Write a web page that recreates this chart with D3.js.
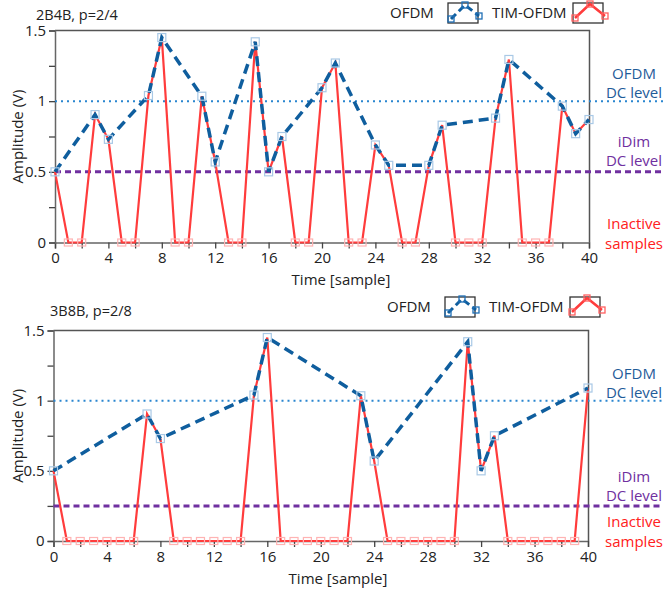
<!DOCTYPE html>
<meta charset="utf-8">
<script src="https://d3js.org/d3.v7.min.js"></script>
<style>
  body { margin: 0; background: #fff; }
  text { font-family: "Open Sans", "Noto Sans", sans-serif; }
</style>
<div id="my_dataviz"></div>
<script>

// sample index axis
var samples = [0,1,2,3,4,5,6,7,8,9,10,11,12,13,14,15,16,17,18,19,20,
               21,22,23,24,25,26,27,28,29,30,31,32,33,34,35,36,37,38,39,40];

// 2B4B panel: OFDM (active samples only) and TIM-OFDM (all samples)
var activeTop = [0,3,4,7,8,11,12,15,16,17,20,21,24,25,28,29,33,34,38,39,40];
var ofdmTop   = [0.5,0.905,0.73,1.04,1.45,1.035,0.57,1.42,0.5,0.75,1.095,1.27,
                 0.69,0.546,0.546,0.83,0.88,1.295,0.965,0.77,0.87];
var timTop    = [0.5,0,0,0.905,0.73,0,0,1.04,1.45,0,0,1.035,0.57,0,0,1.42,0.5,0.75,0,0,
                 1.095,1.27,0,0,0.69,0.546,0,0,0.546,0.83,0,0,0,0.88,1.295,0,0,0,0.965,0.77,0.87];

// 3B8B panel
var activeBottom = [0,7,8,15,16,23,24,31,32,33,40];
var ofdmBottom   = [0.5,0.905,0.73,1.04,1.45,1.035,0.57,1.42,0.5,0.75,1.09];
var timBottom    = [0.5,0,0,0,0,0,0,0.905,0.73,0,0,0,0,0,0,1.04,1.45,0,0,0,0,0,0,
                    1.035,0.57,0,0,0,0,0,0,1.42,0.5,0.75,0,0,0,0,0,0,1.09];

// reference levels
var ofdmDC = [1, 1];
var idimDC = [0.5, 0.25];
var titles = ["2B4B, p=2/4", "3B8B, p=2/8"];

var xTicks = [0,2,4,6,8,10,12,14,16,18,20,22,24,26,28,30,32,34,36,38,40];
var yTicks = [0,0.25,0.5,0.75,1,1.25,1.5];

var blue = "#0f5e9e", red = "#ff3c3c", purple = "#7030a0";

var svg = d3.select("#my_dataviz")
  .append("svg")
    .attr("width", 663)
    .attr("height", 593);

var panels = [
  {top: 30.5, bottom: 242.5, left: 55, right: 589, titleX: 36, titleY: 20, labX: 341,
   act: activeTop, ofdm: ofdmTop, tim: timTop, dc: ofdmDC[0], idim: idimDC[0],
   title: titles[0], legY: 0},
  {top: 330.5, bottom: 541, left: 53.5, right: 588, titleX: 50, titleY: 316, labX: 338,
   act: activeBottom, ofdm: ofdmBottom, tim: timBottom, dc: ofdmDC[1], idim: idimDC[1],
   title: titles[1], legY: 294}
];

panels.forEach(function(p, pi) {
  var g = svg.append("g");

  var x = d3.scaleLinear().domain([0, 40]).range([p.left, p.right]);
  var y = d3.scaleLinear().domain([0, 1.5]).range([p.bottom, p.top]);

  // title
  g.append("text")
    .attr("x", p.titleX).attr("y", p.titleY)
    .style("font-size", "14.5px").attr("fill", "#222")
    .text(p.title);

  // frame top / right
  g.append("path")
    .attr("d", "M" + p.left + "," + p.top + "H" + (p.right + 0.5) + "V" + p.bottom)
    .attr("fill", "none").attr("stroke", "#555").attr("stroke-width", 1.5);

  // axes
  var xAxis = g.append("g")
    .attr("transform", "translate(0," + p.bottom + ")")
    .call(d3.axisBottom(x).tickValues(xTicks).tickSize(6).tickPadding(4)
      .tickFormat(function(d) { return d % 4 === 0 ? d : ""; }));
  var yAxis = g.append("g")
    .attr("transform", "translate(" + p.left + ",0)")
    .call(d3.axisLeft(y).tickValues(yTicks).tickSize(6).tickPadding(3)
      .tickFormat(function(d) { return d % 0.5 === 0 ? d : ""; }));
  [xAxis, yAxis].forEach(function(a) {
    a.select(".domain").attr("stroke", "#666").attr("stroke-width", 1.5);
    a.selectAll(".tick line").attr("stroke", "#444").attr("stroke-width", 1.3);
    a.selectAll(".tick text").style("font-size", "15px").attr("fill", "#222")
      .style("font-family", "'Open Sans', sans-serif");
  });

  // axis labels
  g.append("text")
    .attr("transform", "translate(18," + ((p.top + p.bottom) / 2) + ") rotate(-90)")
    .attr("text-anchor", "middle").attr("dy", "0.35em")
    .style("font-size", "15px").attr("fill", "#222")
    .text("Amplitude (V)");
  g.append("text")
    .attr("x", p.labX).attr("y", p.bottom + 42.5)
    .attr("text-anchor", "middle")
    .style("font-size", "15px").attr("fill", "#222")
    .text("Time [sample]");

  // DC level reference lines (run past the frame)
  g.append("line")
    .attr("x1", p.left).attr("x2", 663)
    .attr("y1", y(p.dc)).attr("y2", y(p.dc))
    .attr("stroke", "#2a86d0").attr("stroke-width", 2)
    .attr("stroke-dasharray", "2,4");
  g.append("line")
    .attr("x1", p.left).attr("x2", 663)
    .attr("y1", y(p.idim)).attr("y2", y(p.idim))
    .attr("stroke", purple).attr("stroke-width", 3)
    .attr("stroke-dasharray", "6,4");

  // TIM-OFDM line
  var timPts = samples.map(function(s, i) { return [s, p.tim[i]]; });
  var ofdmPts = p.act.map(function(s, i) { return [s, p.ofdm[i]]; });
  var line = d3.line().x(function(d) { return x(d[0]); }).y(function(d) { return y(d[1]); });

  g.append("path").datum(timPts)
    .attr("d", line).attr("fill", "none")
    .attr("stroke", red).attr("stroke-width", 2.2);

  // red markers only show on the inactive (zero) samples
  g.selectAll(".rm").data(timPts.filter(function(d) { return p.act.indexOf(d[0]) < 0; }))
    .enter().append("rect")
    .attr("x", function(d) { return x(d[0]) - 4; })
    .attr("y", function(d) { return y(d[1]) - 3.5; })
    .attr("width", 8).attr("height", 7)
    .attr("fill", "none").attr("stroke", "#ffb3b3").attr("stroke-width", 1.2);

  // OFDM dashed line
  g.append("path").datum(ofdmPts)
    .attr("d", line).attr("fill", "none")
    .attr("stroke", blue).attr("stroke-width", 3.5)
    .attr("stroke-dasharray", "10,6");

  g.selectAll(".bm").data(ofdmPts).enter().append("rect")
    .attr("x", function(d) { return x(d[0]) - 4; })
    .attr("y", function(d) { return y(d[1]) - 4; })
    .attr("width", 8).attr("height", 8)
    .attr("fill", "none").attr("stroke", "#a9c9e6").attr("stroke-width", 1.2);

  // right-hand annotations
  var ann = [
    {t: "OFDM", yy: p.top + 43, c: "#1f5c99"},
    {t: "DC level", yy: p.top + 62, c: "#1f5c99"},
    {t: "iDim", yy: p.top + pi * 35 + 111, c: purple},
    {t: "DC level", yy: p.top + pi * 35 + 130, c: purple},
    {t: "Inactive", yy: p.bottom - 19, c: "#ff2020"},
    {t: "samples", yy: p.bottom + 1, c: "#ff2020"}
  ];
  g.selectAll(".ann").data(ann).enter().append("text")
    .attr("x", 634).attr("y", function(d) { return d.yy; })
    .attr("text-anchor", "middle").attr("dy", "0.35em")
    .style("font-size", "15px").attr("fill", function(d) { return d.c; })
    .text(function(d) { return d.t; });

  // legend
  var ly = p.legY;
  var leg = g.append("g").attr("transform", "translate(" + (pi ? -3 : 0) + "," + ly + ")");
  leg.append("text").attr("x", 390).attr("y", 13).attr("dy", "0.35em")
    .style("font-size", "15px").attr("fill", "#222").text("OFDM");
  leg.append("rect").attr("x", 448).attr("y", 3).attr("width", 30).attr("height", 20)
    .attr("fill", "none").attr("stroke", "#333").attr("stroke-width", 1.3);
  var bl = [[451, 19], [465, 5], [479, 16]];
  leg.append("path").attr("d", d3.line()(bl)).attr("fill", "none")
    .attr("stroke", blue).attr("stroke-width", 3).attr("stroke-dasharray", "7,4");
  leg.selectAll(".lb").data(bl).enter().append("rect")
    .attr("x", function(d) { return d[0] - 3; }).attr("y", function(d) { return d[1] - 3; })
    .attr("width", 6).attr("height", 6)
    .attr("fill", "none").attr("stroke", "#1f6fb5").attr("stroke-width", 1.3);

  leg.append("text").attr("x", 492).attr("y", 13).attr("dy", "0.35em")
    .style("font-size", "15px").attr("fill", "#222").text("TIM-OFDM");
  leg.append("rect").attr("x", 573).attr("y", 3).attr("width", 30).attr("height", 20)
    .attr("fill", "none").attr("stroke", "#333").attr("stroke-width", 1.3);
  var rl = [[575, 18], [590, 4], [605, 16]];
  leg.append("path").attr("d", d3.line()(rl)).attr("fill", "none")
    .attr("stroke", red).attr("stroke-width", 2.5);
  leg.selectAll(".lr").data(rl).enter().append("rect")
    .attr("x", function(d) { return d[0] - 3; }).attr("y", function(d) { return d[1] - 3; })
    .attr("width", 6).attr("height", 6)
    .attr("fill", "none").attr("stroke", "#ff6060").attr("stroke-width", 1.3);
});

</script>
